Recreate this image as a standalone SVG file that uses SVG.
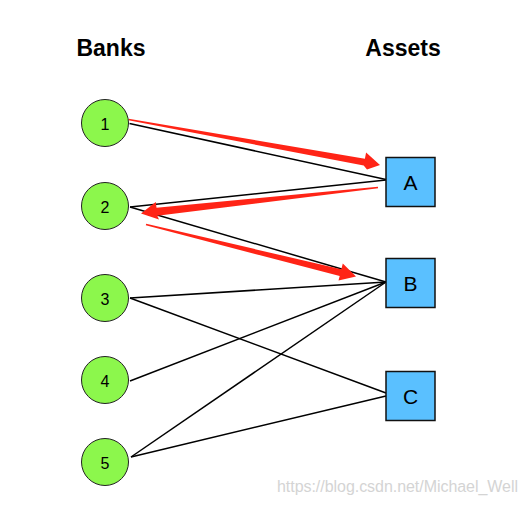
<svg xmlns="http://www.w3.org/2000/svg" width="527" height="505" viewBox="0 0 527 505">
<style>
.bank{fill:#8cf74c;stroke:#222;stroke-width:1}
.asset{fill:#5ac0ff;stroke:#111;stroke-width:1.5}
.lbl{font-family:"Liberation Sans",Arial,sans-serif;fill:#000;text-anchor:middle}
.hdr{font-family:"Liberation Sans",Arial,sans-serif;font-weight:bold;font-size:23px;fill:#000;text-anchor:middle}
.edge{stroke:#000;stroke-width:1.5;fill:none}
.flow{fill:#ff2416;stroke:none}
</style>
<rect width="527" height="505" fill="#fff"/>
<text class="hdr" x="111" y="56">Banks</text>
<text class="hdr" x="403" y="56">Assets</text>
<g id="connectors">
<line class="edge" x1="129.5" y1="123.5" x2="386" y2="179.5"/>
<line class="edge" x1="386" y1="180" x2="130" y2="207"/>
<line class="edge" x1="130" y1="207" x2="386" y2="282"/>
<line class="edge" x1="130" y1="298" x2="386" y2="282"/>
<line class="edge" x1="130" y1="298" x2="386" y2="393"/>
<line class="edge" x1="130" y1="381" x2="386" y2="282"/>
<line class="edge" x1="131" y1="457" x2="386" y2="282"/>
<line class="edge" x1="131" y1="457" x2="386" y2="396"/>
<polygon class="flow" points="128.4,120.3 363.7,165.6 367,169.5 380,165 366.1,152.4 364.9,158.8 128.6,118.7"/>
<polygon class="flow" points="377.9,186.7 156.5,207.8 155.8,201.9 141,213.5 159,219.5 157.3,215.8 378.1,188.3"/>
<polygon class="flow" points="145.8,225.3 339.7,276.1 338.5,280.5 356,276.5 342.8,263.5 341.3,269.3 146.2,223.7"/>
</g>
<g id="bank1"><circle class="bank" cx="105" cy="123" r="23.5"/><text class="lbl" x="105" y="129.5" font-size="16">1</text></g>
<g id="bank2"><circle class="bank" cx="105" cy="206" r="23.5"/><text class="lbl" x="105" y="212.5" font-size="16">2</text></g>
<g id="bank3"><circle class="bank" cx="105" cy="298" r="23.5"/><text class="lbl" x="105" y="304.5" font-size="16">3</text></g>
<g id="bank4"><circle class="bank" cx="105" cy="380" r="23.5"/><text class="lbl" x="105" y="386.5" font-size="16">4</text></g>
<g id="bank5"><circle class="bank" cx="105" cy="462" r="23.5"/><text class="lbl" x="105" y="468.5" font-size="16">5</text></g>
<g id="assetA"><rect class="asset" x="386" y="157.5" width="49" height="49"/><text class="lbl" x="410.5" y="189.5" font-size="21">A</text></g>
<g id="assetB"><rect class="asset" x="386" y="258.5" width="49" height="49"/><text class="lbl" x="410.5" y="290.5" font-size="21">B</text></g>
<g id="assetC"><rect class="asset" x="386" y="371.5" width="49" height="49"/><text class="lbl" x="410.5" y="403.5" font-size="21">C</text></g>
<text x="277" y="492" font-family="'Liberation Sans',Arial,sans-serif" font-size="16" fill="#d4d4d4" textLength="241">https://blog.csdn.net/Michael_Well</text>
</svg>
